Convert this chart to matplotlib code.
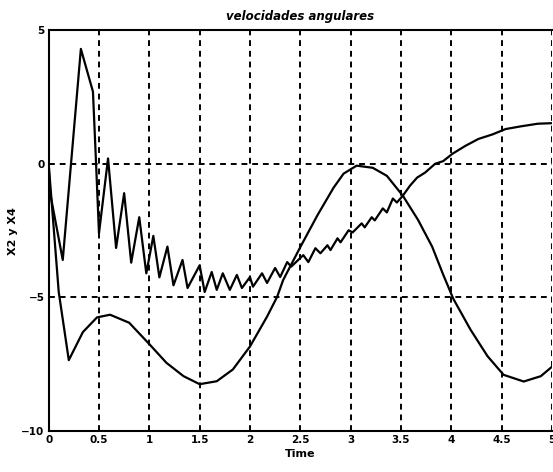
import matplotlib
matplotlib.use("Agg")
import matplotlib.pyplot as plt

# --------------------------------
# DATA
# --------------------------------
# smooth curve
t_a = [0.0, 0.05, 0.1, 0.2, 0.34, 0.48, 0.61, 0.8, 1.0, 1.17, 1.34, 1.5,
       1.67, 1.83, 2.0, 2.17, 2.27, 2.33, 2.5, 2.67, 2.83, 2.93, 3.06,
       3.22, 3.36, 3.52, 3.67, 3.81, 3.92, 4.02, 4.19, 4.36, 4.52, 4.72,
       4.89, 5.0]
x2 = [0.0, -2.4, -4.8, -7.35, -6.3, -5.75, -5.65, -5.95, -6.75, -7.45,
      -7.95, -8.25, -8.14, -7.7, -6.84, -5.72, -4.98, -4.35, -3.12, -1.93,
      -0.9, -0.37, -0.07, -0.15, -0.45, -1.2, -2.1, -3.1, -4.15, -5.05,
      -6.2, -7.2, -7.9, -8.15, -7.95, -7.6]

# oscillating curve (peaks / troughs)
t_b = [0.0, 0.01, 0.14, 0.32, 0.44, 0.47, 0.5, 0.59, 0.67, 0.75, 0.82,
       0.9, 0.97, 1.04, 1.1, 1.18, 1.24, 1.33, 1.38, 1.5, 1.55, 1.62, 1.67,
       1.73, 1.8, 1.87, 1.92, 2.0, 2.03, 2.12, 2.17, 2.25, 2.3, 2.37, 2.41,
       2.53, 2.58, 2.65, 2.7, 2.77, 2.8, 2.87, 2.9, 2.98, 3.02, 3.11, 3.14,
       3.21, 3.24, 3.32, 3.36, 3.42, 3.46, 3.52, 3.59, 3.66, 3.74, 3.84,
       3.92, 4.01, 4.14, 4.27, 4.41, 4.54, 4.69, 4.86, 5.0]
x4 = [0.0, -1.0, -3.6, 4.3, 2.7, 0.1, -2.6, 0.2, -3.15, -1.1, -3.7, -2.0,
      -4.1, -2.7, -4.25, -3.1, -4.55, -3.6, -4.65, -3.8, -4.8, -4.05, -4.72,
      -4.1, -4.72, -4.16, -4.65, -4.24, -4.6, -4.1, -4.46, -3.9, -4.24,
      -3.68, -3.85, -3.42, -3.68, -3.16, -3.35, -3.05, -3.23, -2.79, -2.94,
      -2.49, -2.57, -2.23, -2.38, -2.0, -2.12, -1.67, -1.82, -1.3, -1.45,
      -1.19, -0.82, -0.52, -0.33, 0.0, 0.1, 0.37, 0.67, 0.93, 1.1, 1.3,
      1.4, 1.5, 1.52]

x_ticks = [0, 0.5, 1, 1.5, 2, 2.5, 3, 3.5, 4, 4.5, 5]
x_tick_labels = ["0", "0.5", "1", "1.5", "2", "2.5", "3", "3.5", "4", "4.5", "5"]
y_ticks = [-10, -5, 0, 5]

# --------------------------------
# PLOT
# --------------------------------
fig = plt.figure(figsize=(5.53, 4.72), dpi=100)
ax = fig.add_axes([0.088, 0.087, 0.91, 0.849])

ax.plot(t_a, x2, color="black", lw=1.6, solid_joinstyle="round")
ax.plot(t_b, x4, color="black", lw=1.6, solid_joinstyle="round")

ax.set_xlim(0, 5)
ax.set_ylim(-10, 5)
ax.set_xticks(x_ticks)
ax.set_xticklabels(x_tick_labels)
ax.set_yticks(y_ticks)
ax.tick_params(length=0, pad=3, labelsize=7.5)
for lab in ax.get_xticklabels() + ax.get_yticklabels():
    lab.set_fontweight("bold")

ax.grid(True, color="black", linestyle=(0, (3, 2.5)), lw=1.4)
for side in ["left", "bottom", "top"]:
    ax.spines[side].set_linewidth(1.5)
ax.spines["right"].set_visible(False)

ax.set_title("velocidades angulares", fontsize=8.5, fontweight="bold",
             fontstyle="italic", pad=7)
ax.set_xlabel("Time", fontsize=8, fontweight="bold", labelpad=3)
ax.set_ylabel("X2 y X4", fontsize=8, fontweight="bold", labelpad=2)

plt.savefig("out.png", dpi=100)
plt.close()
